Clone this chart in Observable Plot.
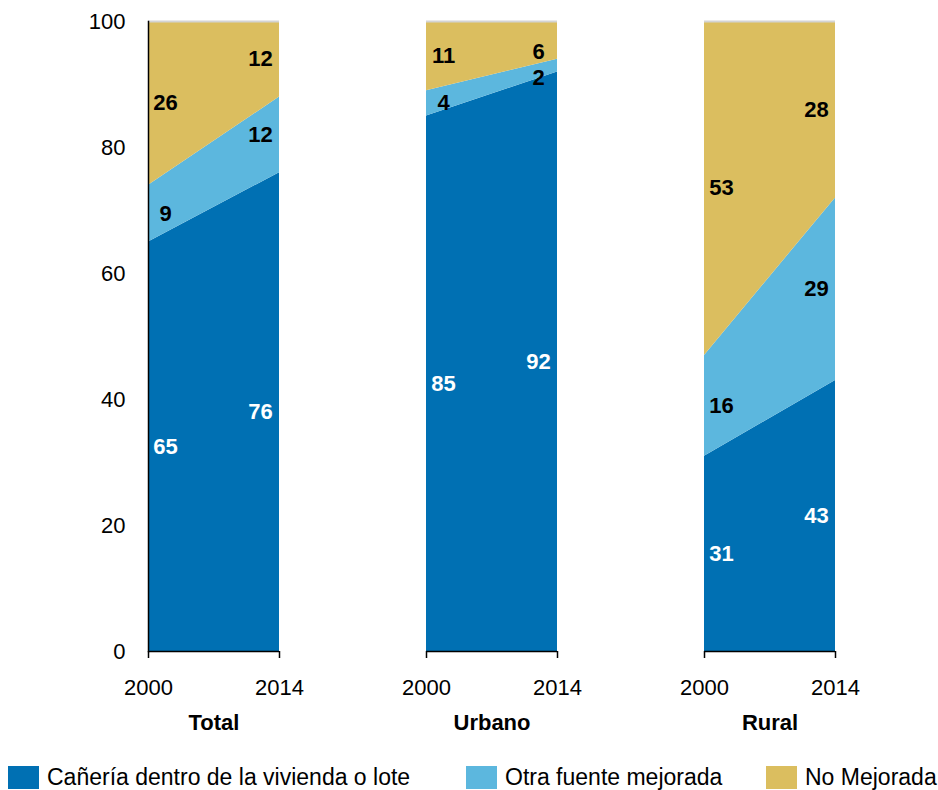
<!DOCTYPE html>
<html><head><meta charset="utf-8">
<script src="https://cdn.jsdelivr.net/npm/d3@7"></script>
<script src="https://cdn.jsdelivr.net/npm/@observablehq/plot@0.6"></script>
<style>
html,body{margin:0;padding:0;background:#fff;}
body{width:938px;height:790px;overflow:hidden;font-family:"Liberation Sans",Arial,sans-serif;}
#legend{position:relative;height:24px;margin-top:14px;font-size:23px;line-height:23px;color:#000;}
#legend .item{position:absolute;top:0;display:flex;align-items:center;white-space:nowrap;height:23px;}
#legend .sw{width:31px;height:23px;margin-right:8px;}
</style></head><body>
<div id="chart"></div>
<div id="legend"></div>
<script>
const groups = ["Total", "Urbano", "Rural"];
const years = [2000, 2014];
const categories = ["Cañería dentro de la vivienda o lote", "Otra fuente mejorada", "No Mejorada"];
const colors = ["#0070B3", "#5CB7DE", "#DBBE5F"];
// values per group: [2000, 2014]
const pipedValues = [[65, 76], [85, 92], [31, 43]];
const otherImprovedValues = [[9, 12], [4, 2], [16, 29]];
const unimprovedValues = [[26, 12], [11, 6], [53, 28]];
const yTicks = [0, 20, 40, 60, 80, 100];
const legendX = [8, 466, 766];

const series = [pipedValues, otherImprovedValues, unimprovedValues];
const data = [];
groups.forEach((g, gi) => years.forEach((yr, yi) => series.forEach((arr, ci) =>
  data.push({group: g, year: yr, cat: categories[ci], ci, value: arr[gi][yi]}))));

const labelFill = d => d.ci === 0 ? "white" : "black";
const textOpts = {x: "year", y: "value", z: "cat", fx: "group", text: d => String(d.value),
  fill: labelFill, fontWeight: "bold", fontSize: 22, fontFamily: "Liberation Sans, Arial, sans-serif", textAnchor: "middle"};

const chart = Plot.plot({
  width: 938, height: 752,
  marginTop: 21, marginBottom: 101, marginLeft: 148, marginRight: 103,
  style: {fontFamily: "Liberation Sans, Arial, sans-serif", fontSize: "22px", color: "#000", background: "#fff"},
  fx: {domain: groups, paddingInner: 0.53, paddingOuter: 0, axis: null},
  x: {type: "linear", domain: [years[0], years[1]], axis: null},
  y: {domain: [yTicks[0], yTicks[yTicks.length - 1]], axis: null},
  color: {domain: categories, range: colors},
  marks: [
    Plot.areaY(data, Plot.stackY({x: "year", y: "value", fill: "cat", z: "cat", fx: "group"})),
    Plot.ruleY([yTicks[yTicks.length - 1]], {stroke: "#d4d4d4", strokeWidth: 2}),
    Plot.ruleY([yTicks[0]], {stroke: "#000", strokeWidth: 1.5}),
    Plot.frame({anchor: "left", facetAnchor: "left", stroke: "#000", strokeWidth: 1.5}),
    Plot.axisY({ticks: yTicks, tickSize: 0, tickPadding: 23, fontSize: 22, facetAnchor: "left", label: null}),
    Plot.axisX({ticks: years, tickFormat: "d", tickSize: 7, tickPadding: 21, fontSize: 22, stroke: "#000", strokeWidth: 1.5, label: null}),
    Plot.axisFx({anchor: "bottom", tickSize: 0, tickPadding: 63, fontSize: 22, fontWeight: "bold", label: null}),
    Plot.text(data, Plot.filter(d => d.year === years[0], Plot.stackY({...textOpts, dx: 17}))),
    Plot.text(data, Plot.filter(d => d.year === years[1] && !(d.group === groups[1] && d.ci > 0), Plot.stackY({...textOpts, dx: -19}))),
    Plot.text(data, Plot.filter(d => d.year === years[1] && d.group === groups[1] && d.ci > 0, Plot.stackY({...textOpts, dx: -19, dy: 12})))
  ]
});
document.getElementById("chart").appendChild(chart);

const legend = document.getElementById("legend");
categories.forEach((c, i) => {
  const item = document.createElement("div");
  item.className = "item";
  item.style.left = legendX[i] + "px";
  const sw = document.createElement("div");
  sw.className = "sw";
  sw.style.background = colors[i];
  const t = document.createElement("span");
  t.textContent = c;
  item.appendChild(sw); item.appendChild(t);
  legend.appendChild(item);
});
</script>
</body></html>
